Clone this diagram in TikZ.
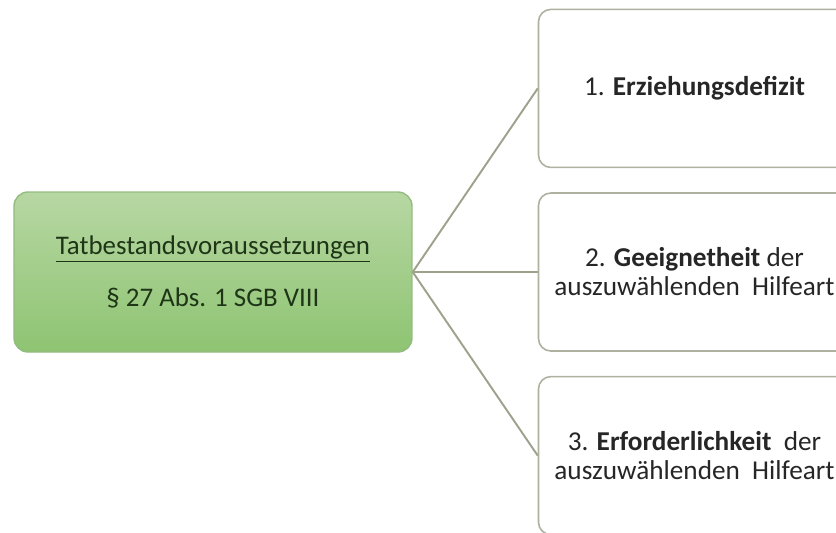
\documentclass[tikz,border=0pt]{standalone}
\usepackage{fontspec}
\setmainfont{Carlito}
\usetikzlibrary{positioning}
\definecolor{LeafTop}{HTML}{B7D7A3}
\definecolor{LeafBot}{HTML}{8EC472}
\definecolor{LeafEdge}{HTML}{93BC80}
\definecolor{LeafInk}{HTML}{1F3517}
\definecolor{Frame}{HTML}{AEB19F}
\definecolor{Twig}{HTML}{9EA28D}
\definecolor{Ink}{HTML}{262626}

\begin{document}
\begin{tikzpicture}[
    root/.style={rounded corners=8pt,draw=LeafEdge,line width=0.8pt,
      top color=LeafTop,bottom color=LeafBot,minimum width=7.96cm,
      minimum height=3.2cm,align=center,font=\fontsize{15.3}{18}\selectfont,
      text=LeafInk},
    cond/.style={rounded corners=7pt,draw=Frame,line width=0.9pt,fill=white,
      minimum width=6.24cm,minimum height=3.16cm,align=center,
      font=\fontsize{15.5}{16.5}\selectfont,text=Ink},
    twig/.style={Twig,line width=1.1pt}
  ]
    \clip (0,0) rectangle (16.72,-10.64);
    \node[root] (tb) at (4.26,-5.44)
      {\underline{Tatbestandsvoraussetzungen}\\[12pt]\S\ 27 Abs. 1 SGB VIII};
    \node[cond,right=2.5cm of tb] (geeig)
      {2. \textbf{Geeignetheit} der\\auszuwählenden\ \ Hilfeart};
    \node[cond,above=0.48cm of geeig] (erz) {1. \textbf{Erziehungsdefizit}};
    \node[cond,below=0.48cm of geeig] (erf)
      {3. \textbf{Erforderlichkeit}\ \ der\\auszuwählenden\ \ Hilfeart};
    \foreach \c in {erz,geeig,erf}\draw[twig](tb.east)--(\c.west);
  \end{tikzpicture}
\end{document}
